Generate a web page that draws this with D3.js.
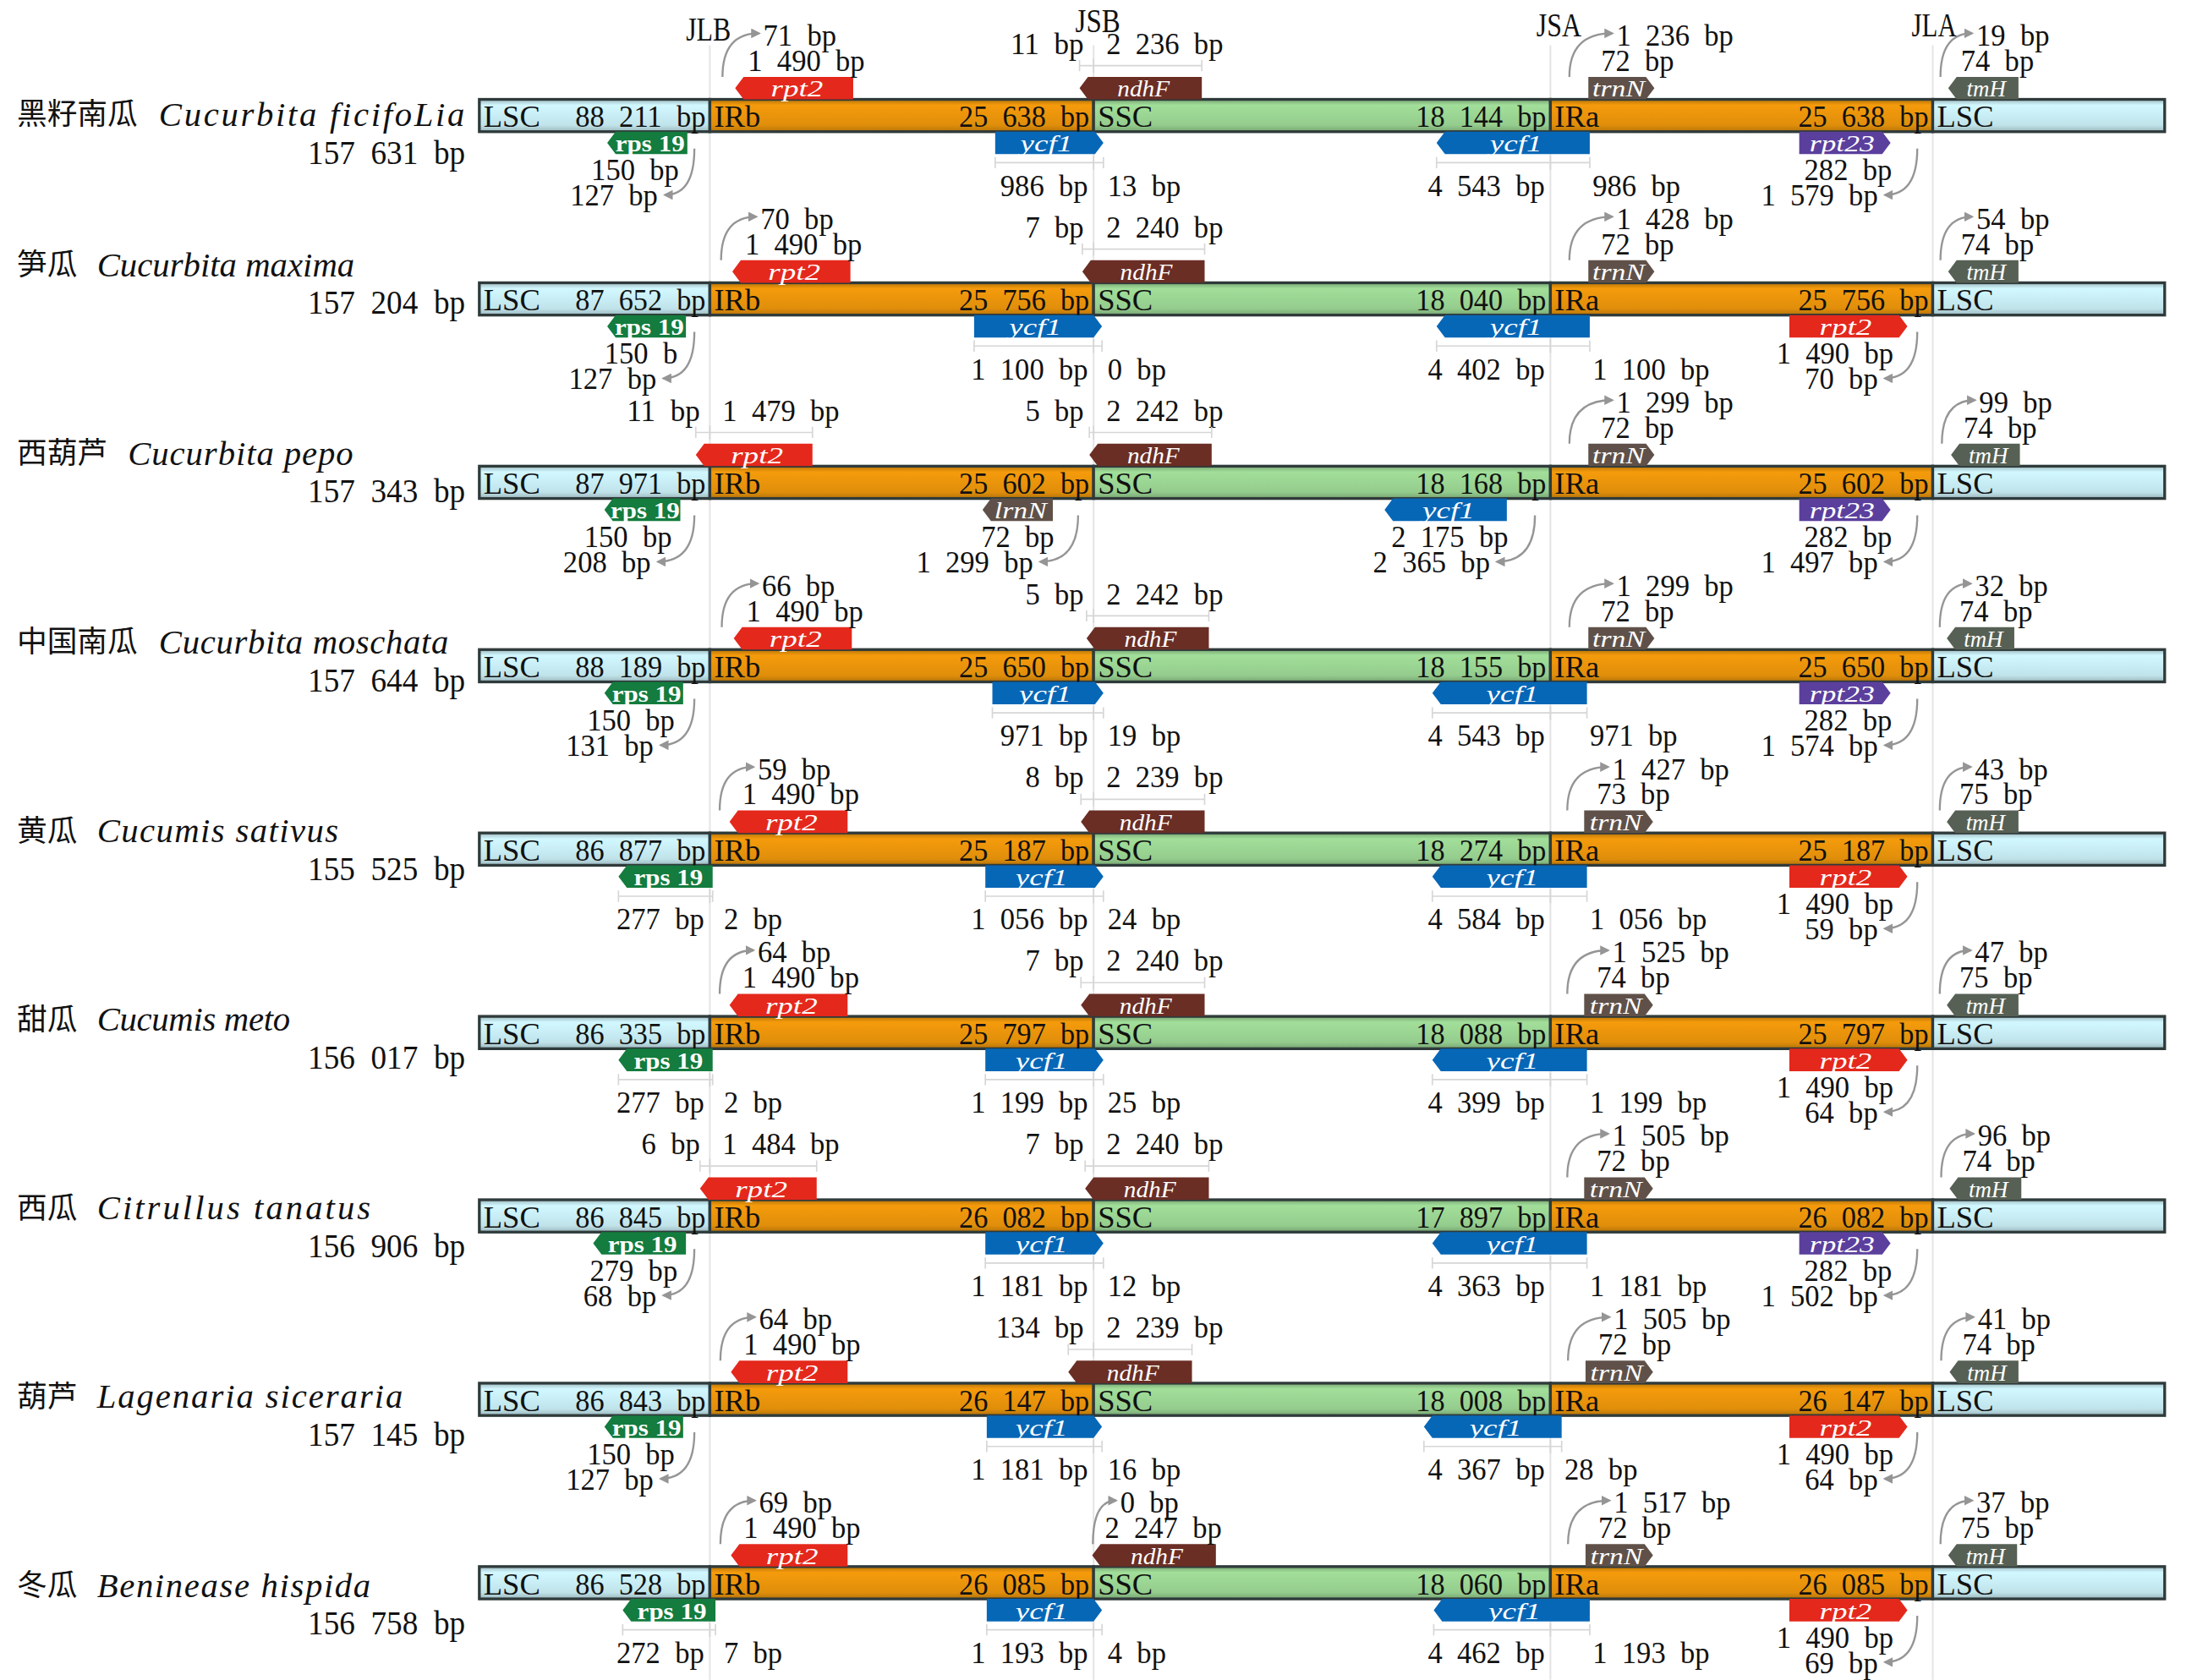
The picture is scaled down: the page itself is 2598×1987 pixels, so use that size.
<!DOCTYPE html>
<html>
<head>
<meta charset="utf-8">
<script src="https://cdn.jsdelivr.net/npm/d3@7"></script>
<style>
  body { margin: 0; background: #fff; }
  svg { display: block; }
  .num { font-family: "Liberation Serif", serif; font-size: 22px; fill: #111; word-spacing: 0.25em; }
  .total { font-family: "Liberation Serif", serif; font-size: 23.5px; fill: #111; word-spacing: 0.25em; }
  .cn { font-family: "Noto Sans CJK SC", sans-serif; font-size: 21.5px; fill: #111; }
  .latin { font-family: "Liberation Serif", serif; font-size: 24.5px; font-style: italic; fill: #111; }
  .junc { font-family: "Liberation Serif", serif; font-size: 24px; fill: #111; }
  .gene { font-family: "Liberation Serif", serif; font-size: 17px; font-style: italic; fill: #fff; }
  .arc { fill: none; stroke: #959595; stroke-width: 1.4; }
  .bracket { stroke: #d6d6d6; stroke-width: 1; fill: none; }
</style>
</head>
<body>
<div id="chart"></div>
<script>
document.addEventListener("DOMContentLoaded", function() {

// species, one row each
var speciesCn = ["黑籽南瓜", "笋瓜", "西葫芦", "中国南瓜", "黄瓜", "甜瓜", "西瓜", "葫芦", "冬瓜"];
var speciesLatin = ["Cucurbita ficifoLia", "Cucurbita maxima", "Cucurbita pepo", "Cucurbita moschata",
  "Cucumis sativus", "Cucumis meto", "Citrullus tanatus", "Lagenaria siceraria", "Beninease hispida"];
var genomeSize = [157631, 157204, 157343, 157644, 155525, 156017, 156906, 157145, 156758];

// region lengths (IRb = IRa)
var lscSize = [88211, 87652, 87971, 88189, 86877, 86335, 86845, 86843, 86528];
var irSize  = [25638, 25756, 25602, 25650, 25187, 25797, 26082, 26147, 26085];
var sscSize = [18144, 18040, 18168, 18155, 18274, 18088, 17897, 18008, 18060];
var junctions = ["JLB", "JSB", "JSA", "JLA"];

// gene labels near each junction, in reading order
var rpt2Jlb  = [[71,1490],[70,1490],[11,1479],[66,1490],[59,1490],[64,1490],[6,1484],[64,1490],[69,1490]];
var rps19Jlb = [[150,127],["150 b",127],[150,208],[150,131],[277,2],[277,2],[279,68],[150,127],[272,7]];
var ndhFJsb  = [[11,2236],[7,2240],[5,2242],[5,2242],[8,2239],[7,2240],[7,2240],[134,2239],[0,2247]];
var ycf1Jsb  = [[986,13],[1100,0],null,[971,19],[1056,24],[1199,25],[1181,12],[1181,16],[1193,4]];
var lrnNJsb  = [null,null,[72,1299],null,null,null,null,null,null];
var trnNJsa  = [[1236,72],[1428,72],[1299,72],[1299,72],[1427,73],[1525,74],[1505,72],[1505,72],[1517,72]];
var ycf1Jsa  = [[4543,986],[4402,1100],[2175,2365],[4543,971],[4584,1056],[4399,1199],[4363,1181],[4367,28],[4462,1193]];
var tmHJla   = [[19,74],[54,74],[99,74],[32,74],[43,75],[47,75],[96,74],[41,74],[37,75]];
var iraGene  = ["rpt23","rpt2","rpt23","rpt23","rpt2","rpt2","rpt23","rpt2","rpt2"];
var iraGeneLabels = [[282,1579],[1490,70],[282,1497],[282,1574],[1490,59],[1490,64],[282,1502],[1490,64],[1490,69]];

// schematic layout: box offsets (px) from the junction, per row
var geneColor = { rpt2: "#e4281c", "rps 19": "#137c3e", ndhF: "#6a2e25", ycf1: "#0767b7",
  trnN: "#5f5149", lrnN: "#5f5149", tmH: "#566054", rpt23: "#5b3f9d" };
var features = [
  { name: "rpt2", j: 1, side: "top", dir: "L", labels: rpt2Jlb,
    box: [[18,102],[16,100],[-10,73],[17,101],[14,98],[14,98],[-7,76],[15,98],[15,98]] },
  { name: "rps 19", j: 1, side: "bottom", dir: "L", labels: rps19Jlb, d: [-6,-21], upright: true,
    box: [[-73,-16],[-73,-17],[-75,-21],[-75,-19],[-65,2],[-65,2],[-83,-17],[-75,-19],[-62,4]] },
  { name: "ndhF", j: 2, side: "top", dir: "L", labels: ndhFJsb,
    box: [[-10,77],[-8,79],[-3,84],[-5,82],[-9,79],[-9,79],[-6,82],[-18,70],[-1,87]] },
  { name: "ycf1", j: 2, side: "bottom", dir: "R", labels: ycf1Jsb,
    box: [[-70,7],[-85,6],null,[-72,7],[-77,7],[-77,7],[-77,7],[-76,6],[-76,6]] },
  { name: "lrnN", j: 2, side: "bottom", dir: "L", labels: lrnNJsb, d: [1,-14],
    box: [null,null,[-79,-29],null,null,null,null,null,null] },
  { name: "trnN", j: 3, side: "top", dir: "R", labels: trnNJsa,
    box: [[27,74],[27,74],[27,74],[27,74],[24,73],[24,73],[24,73],[25,73],[25,73]] },
  { name: "ycf1", j: 3, side: "bottom", dir: "L", labels: ycf1Jsa, d: [1,-12],
    box: [[-81,28],[-81,28],[-118,-31],[-84,26],[-84,26],[-84,26],[-84,26],[-90,8],[-83,28]] },
  { name: "tmH", j: 4, side: "top", dir: "L", labels: tmHJla,
    box: [[11,61],[11,61],[13,62],[10,58],[10,61],[10,61],[12,63],[12,61],[11,60]] },
  { name: iraGene, j: 4, side: "bottom", dir: "R", labels: iraGeneLabels,
    box: iraGene.map(function(g) { return g === "rpt23" ? [-95,-30] : [-102,-18]; }) }
];
var dOffsets = { rpt23: [1,-9], rpt2: [-10,-21] };

var W = 1563, H = 1195, barH = 23, geneH = 16;

var svg = d3.select("#chart").append("svg")
  .attr("width", 2598)
  .attr("height", 1987)
  .attr("viewBox", "0 0 " + W + " " + H);

var defs = svg.append("defs");
defs.append("marker")
  .attr("id", "arrow")
  .attr("viewBox", "0 0 10 10")
  .attr("refX", 8).attr("refY", 5)
  .attr("markerWidth", 5).attr("markerHeight", 5)
  .attr("orient", "auto")
  .append("path").attr("d", "M0,0 L10,5 L0,10 Z").attr("fill", "#959595");

var segColors = { lsc: "#c0e3ea", ir: "#e08e0b", ssc: "#94cc8d" };
Object.keys(segColors).forEach(function(k) {
  var c = d3.color(segColors[k]);
  var grad = defs.append("linearGradient").attr("id", "g-" + k)
    .attr("x1", 0).attr("x2", 0).attr("y1", 0).attr("y2", 1);
  grad.append("stop").attr("offset", "0%").attr("stop-color", c.darker(0.6));
  grad.append("stop").attr("offset", "18%").attr("stop-color", c.brighter(0.25));
  grad.append("stop").attr("offset", "80%").attr("stop-color", c);
  grad.append("stop").attr("offset", "100%").attr("stop-color", c.darker(0.6));
});

// junction positions on the schematic axis, row positions
var x = d3.scaleOrdinal()
  .domain(["start"].concat(junctions, ["end"]))
  .range([341, 505, 778, 1103, 1375, 1540]);
var y = d3.scalePoint()
  .domain(d3.range(speciesCn.length))
  .range([70.5, 70.5 + 8 * 130.5]);

var loc = d3.formatLocale({ decimal: ".", thousands: " ", grouping: [3], currency: ["", ""] });
var fmt = loc.format(",");
function bp(v) { return typeof v === "string" ? v : fmt(v) + " bp"; }

// junction lines and headers
var juncY = [20, 14, 17, 17];
var juncDx = [-1, 3, 6, 1];
junctions.forEach(function(j, i) {
  svg.append("line")
    .attr("x1", x(j)).attr("x2", x(j))
    .attr("y1", 32).attr("y2", H)
    .attr("stroke", "#e4e4e4").attr("stroke-width", 1.2);
  svg.append("text").attr("class", "junc")
    .attr("x", x(j) + juncDx[i]).attr("y", juncY[i]).attr("dy", "0.35em")
    .attr("text-anchor", "middle")
    .attr("textLength", 32).attr("lengthAdjust", "spacingAndGlyphs")
    .text(j);
});

// number text: half-width monospace look
function label(g, txt, px, py, anchor, cls, cw) {
  var t = g.append("text").attr("class", cls || "num")
    .attr("x", px).attr("y", py).attr("dy", "0.35em")
    .attr("text-anchor", anchor).text(txt);
  if (/\d/.test(txt)) {
    t.attr("textLength", txt.length * (cw || 10.4)).attr("lengthAdjust", "spacingAndGlyphs");
  }
}
function arc(g, sx, sy, ex, ey) {
  g.append("path").attr("class", "arc")
    .attr("d", "M" + sx + "," + sy + " Q" + sx + "," + ey + " " + ex + "," + ey)
    .attr("marker-end", "url(#arrow)");
}
function bracket(g, x0, xj, x1, by) {
  g.append("path").attr("class", "bracket")
    .attr("d", "M" + x0 + "," + by + " H" + x1 +
      " M" + x0 + "," + (by - 4) + " V" + (by + 4) +
      " M" + xj + "," + (by - 5) + " V" + (by + 5) +
      " M" + x1 + "," + (by - 4) + " V" + (by + 4));
}
function genePath(x0, x1, y0, dir) {
  var p = 6, m = y0 + geneH / 2, y1 = y0 + geneH;
  if (dir === "L")
    return "M" + x0 + "," + m + " L" + (x0 + p) + "," + y0 + " L" + x1 + "," + y0 +
      " L" + x1 + "," + y1 + " L" + (x0 + p) + "," + y1 + " Z";
  return "M" + x0 + "," + y0 + " L" + (x1 - p) + "," + y0 + " L" + x1 + "," + m +
    " L" + (x1 - p) + "," + y1 + " L" + x0 + "," + y1 + " Z";
}

var rows = svg.selectAll("g.row")
  .data(d3.range(speciesCn.length))
  .enter().append("g").attr("class", "row");

rows.each(function(i) {
  var g = d3.select(this);
  var T = y(i), B = T + barH;
  var nameY = i === 0 ? 81 : 188 + (i - 1) * 134.2;

  // species name + genome size
  g.append("text").attr("class", "cn")
    .attr("x", 12).attr("y", nameY).attr("dy", "0.35em")
    .text(speciesCn[i]);
  var latinX = 12 + speciesCn[i].length * 22 + 13;
  g.append("text").attr("class", "latin")
    .attr("x", latinX).attr("y", nameY).attr("dy", "0.35em")
    .attr("textLength", speciesLatin[i].length * 11.45)
    .attr("lengthAdjust", "spacing")
    .text(speciesLatin[i]);
  label(g, bp(genomeSize[i]), 331, nameY + 27, "end", "total", 11.2);

  // quadripartite bar
  var segs = [
    { name: "LSC", a: "start", b: "JLB", len: lscSize[i], key: "lsc" },
    { name: "IRb", a: "JLB", b: "JSB", len: irSize[i], key: "ir" },
    { name: "SSC", a: "JSB", b: "JSA", len: sscSize[i], key: "ssc" },
    { name: "IRa", a: "JSA", b: "JLA", len: irSize[i], key: "ir" },
    { name: "LSC", a: "JLA", b: "end", len: null, key: "lsc" }
  ];
  g.selectAll("rect.seg").data(segs).enter().append("rect")
    .attr("class", "seg")
    .attr("x", function(d) { return x(d.a); })
    .attr("y", T)
    .attr("width", function(d) { return x(d.b) - x(d.a); })
    .attr("height", barH)
    .attr("fill", function(d) { return "url(#g-" + d.key + ")"; })
    .attr("stroke", "#2f3a3a").attr("stroke-width", 2);
  segs.forEach(function(d) {
    label(g, d.name, x(d.a) + 3, T + barH / 2 + 0.5, "start");
    if (d.len !== null) label(g, bp(d.len), x(d.b) - 3, T + barH / 2 + 0.5, "end", "num", 10.3);
  });

  // genes around junctions
  features.forEach(function(f) {
    var box = f.box[i], labs = f.labels[i];
    if (!box || !labs) return;
    var name = Array.isArray(f.name) ? f.name[i] : f.name;
    var J = x(junctions[f.j - 1]);
    var x0 = J + box[0], x1 = J + box[1];
    var gy = f.side === "top" ? T - geneH : B;
    g.append("path")
      .attr("d", genePath(x0, x1, gy, f.dir))
      .attr("fill", geneColor[name]);
    g.append("text").attr("class", "gene")
      .attr("x", (x0 + x1) / 2 + (f.dir === "L" ? 2 : -2)).attr("y", gy + geneH / 2 + 0.5).attr("dy", "0.33em")
      .attr("text-anchor", "middle")
      .style("font-style", f.upright ? "normal" : "italic")
      .style("font-weight", f.upright ? "bold" : "normal")
      .attr("textLength", name.length * (f.upright ? 8.2 : 9.3))
      .attr("lengthAdjust", "spacingAndGlyphs")
      .text(name);

    var straddle = box[0] <= -3 && box[1] >= 2;
    if (f.side === "top" && !straddle) {
      label(g, bp(labs[0]), x0 + 20, T - 46, "start");
      label(g, bp(labs[1]), x0 + 9, T - 28, "start");
      arc(g, J + box[0] * 0.5, T - 16, x0 + 17, T - 47);
    } else if (f.side === "top") {
      label(g, bp(labs[0]), J - 7, T - 40, "end");
      label(g, bp(labs[1]), J + 9, T - 40, "start");
      bracket(g, x0, J, x1, T - 24);
    } else if (straddle) {
      label(g, bp(labs[0]), J - 4, B + 38, "end");
      label(g, bp(labs[1]), Math.max(J + 10, x1 + 2), B + 38, "start");
      bracket(g, x0, J, x1, B + 22);
    } else {
      var d = dOffsets[name] || f.d || [-6, -21];
      label(g, bp(labs[0]), x1 + d[0], B + 27, "end");
      label(g, bp(labs[1]), x1 + d[1], B + 45, "end");
      arc(g, Math.max(x1 + 5, J - 11), B + 12, x1 + d[1] + 5, B + 45);
    }
  });
});

});
</script>
</body>
</html>
